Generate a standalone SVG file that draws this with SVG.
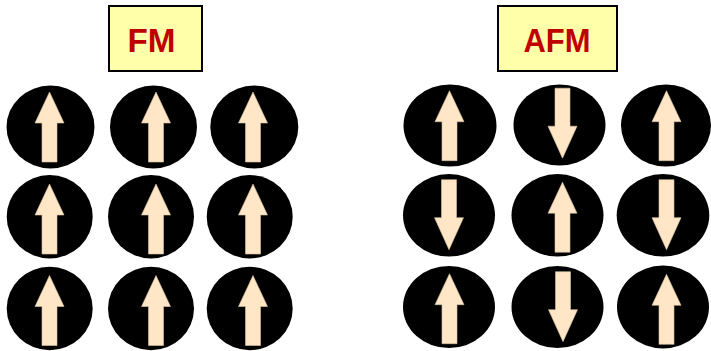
<svg xmlns="http://www.w3.org/2000/svg" xmlns:xlink="http://www.w3.org/1999/xlink" width="711" height="351" viewBox="0 0 711 351">
<style>
.box{fill:#FFFFAA;stroke:#000;stroke-width:2}
.lbl{font-family:"Liberation Sans",Arial,sans-serif;font-weight:bold;font-size:34px;fill:#C00000}
.spin{fill:#000}
.arr{fill:#FFE6C6;stroke:#D8C4A4;stroke-width:0.6}
</style>
<defs>
<path id="up" class="arr" d="M0,-35 L14.5,-4 L7.5,-4 L7.5,35 L-7.5,35 L-7.5,-4 L-14.5,-4 Z"/>
<path id="dn" class="arr" d="M0,35 L14.5,3 L7.5,3 L7.5,-35 L-7.5,-35 L-7.5,3 L-14.5,3 Z"/>
</defs>
<rect width="711" height="351" fill="#fff"/>
<g id="label-FM"><rect class="box" x="109" y="6" width="93" height="65"/><text class="lbl" x="127.5" y="52" textLength="48" lengthAdjust="spacingAndGlyphs">FM</text></g>
<g id="label-AFM"><rect class="box" x="498" y="6" width="119" height="65"/><text class="lbl" x="523.5" y="52" textLength="67" lengthAdjust="spacingAndGlyphs">AFM</text></g>
<g id="fm">
<g id="fm-1-1"><ellipse class="spin" cx="50.5" cy="127" rx="44" ry="41.5"/><use xlink:href="#up" x="49.5" y="127"/></g>
<g id="fm-1-2"><ellipse class="spin" cx="153.5" cy="127" rx="43.5" ry="41.5"/><use xlink:href="#up" x="156" y="127"/></g>
<g id="fm-1-3"><ellipse class="spin" cx="254.3" cy="127" rx="44" ry="41.5"/><use xlink:href="#up" x="253" y="127"/></g>
<g id="fm-2-1"><ellipse class="spin" cx="49.7" cy="216.7" rx="43" ry="41.7"/><use xlink:href="#up" x="49.5" y="219"/></g>
<g id="fm-2-2"><ellipse class="spin" cx="151" cy="216.7" rx="43" ry="41.7"/><use xlink:href="#up" x="156" y="219"/></g>
<g id="fm-2-3"><ellipse class="spin" cx="249.7" cy="216.7" rx="43" ry="41.7"/><use xlink:href="#up" x="253" y="219"/></g>
<g id="fm-3-1"><ellipse class="spin" cx="49.7" cy="308.5" rx="43" ry="41.7"/><use xlink:href="#up" x="49.5" y="310.5"/></g>
<g id="fm-3-2"><ellipse class="spin" cx="151" cy="308.5" rx="43" ry="41.7"/><use xlink:href="#up" x="156" y="310.5"/></g>
<g id="fm-3-3"><ellipse class="spin" cx="249.7" cy="308.5" rx="43" ry="41.7"/><use xlink:href="#up" x="253" y="310.5"/></g>
</g>
<g id="afm">
<g id="afm-1-1"><ellipse class="spin" cx="450" cy="125.5" rx="46.5" ry="41"/><use xlink:href="#up" x="449.5" y="125.7"/></g>
<g id="afm-1-2"><ellipse class="spin" cx="559.5" cy="125" rx="46" ry="40.5"/><use xlink:href="#dn" x="562.5" y="123.2"/></g>
<g id="afm-1-3"><ellipse class="spin" cx="666" cy="125.5" rx="45" ry="41"/><use xlink:href="#up" x="666.5" y="125.7"/></g>
<g id="afm-2-1"><ellipse class="spin" cx="449" cy="215.3" rx="46" ry="41.3"/><use xlink:href="#dn" x="449" y="214.7"/></g>
<g id="afm-2-2"><ellipse class="spin" cx="557.5" cy="215.3" rx="46" ry="41.3"/><use xlink:href="#up" x="562.5" y="217.2"/></g>
<g id="afm-2-3"><ellipse class="spin" cx="663" cy="215.3" rx="46.3" ry="41.3"/><use xlink:href="#dn" x="666.5" y="214.7"/></g>
<g id="afm-3-1"><ellipse class="spin" cx="449" cy="307" rx="46" ry="41"/><use xlink:href="#up" x="449.5" y="308.7"/></g>
<g id="afm-3-2"><ellipse class="spin" cx="557.5" cy="307" rx="46" ry="41"/><use xlink:href="#dn" x="563" y="306.7"/></g>
<g id="afm-3-3"><ellipse class="spin" cx="663" cy="307" rx="46" ry="41.5"/><use xlink:href="#up" x="666.5" y="309.3"/></g>
</g>
<g id="connectors"/>
</svg>
